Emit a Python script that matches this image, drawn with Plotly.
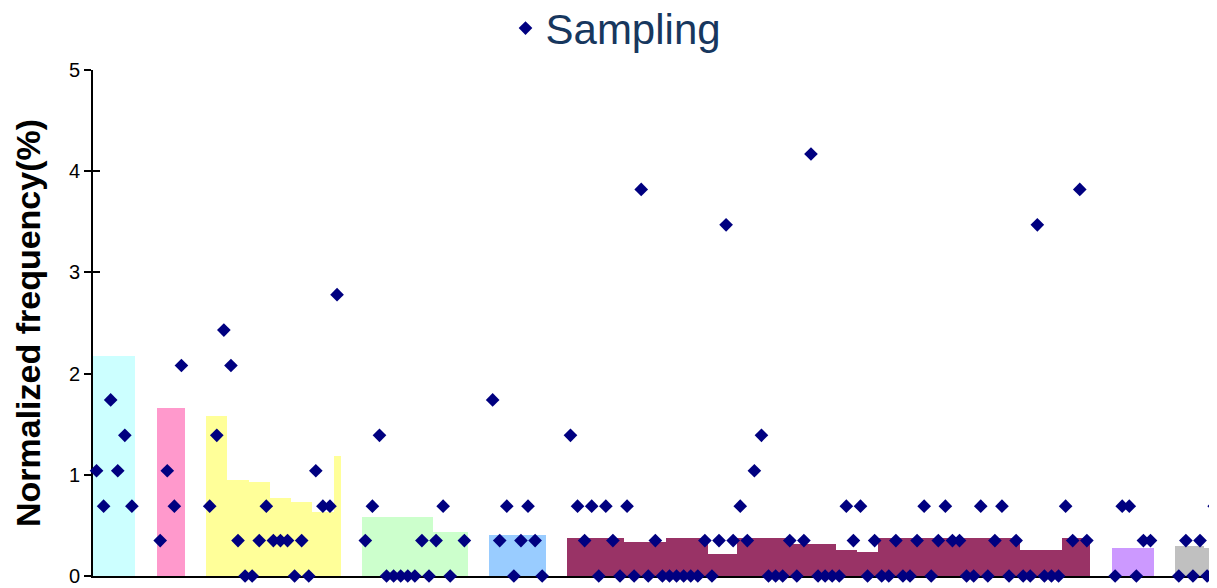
import plotly.graph_objects as go

# ---------------- data ----------------
# category index along the x axis (one slot per sampled position)
categories = list(range(159))

# normalized frequency of each sampled position (None = no sample in that slot)
sampling = [
    1.04, 0.69, 1.74, 1.04, 1.39, 0.69, None, None, None,          # 0-8
    0.35, 1.04, 0.69, 2.08, None, None, None,                      # 9-15
    0.69, 1.39, 2.43, 2.08, 0.35, 0, 0, 0.35, 0.69, 0.35,          # 16-25
    0.35, 0.35, 0, 0.35, 0, 1.04, 0.69, 0.69, 2.78,                # 26-34
    None, None, None,                                              # 35-37
    0.35, 0.69, 1.39, 0, 0, 0, 0, 0, 0.35, 0, 0.35, 0.69, 0,       # 38-50
    None, 0.35, None, None, None,                                  # 51-55
    1.74, 0.35, 0.69, 0, 0.35, 0.69, 0.35, 0,                      # 56-63
    None, None, None,                                              # 64-66
    1.39, 0.69, 0.35, 0.69, 0, 0.69, 0.35, 0, 0.69, 0,             # 67-76
    3.82, 0, 0.35, 0, 0, 0, 0, 0, 0, 0.35,                         # 77-86
    0, 0.35, 3.47, 0.35, 0.69, 0.35, 1.04, 1.39, 0, 0,             # 87-96
    0, 0.35, 0, 0.35, 4.17, 0, 0, 0, 0, 0.69,                      # 97-106
    0.35, 0.69, 0, 0.35, 0, 0, 0.35, 0, 0, 0.35,                   # 107-116
    0.69, 0, 0.35, 0.69, 0.35, 0.35, 0, 0, 0.69, 0,                # 117-126
    0.35, 0.69, 0, 0.35, 0, 0, 3.47, 0, 0, 0,                      # 127-136
    0.69, 0.35, 3.82, 0.35,                                        # 137-140
    None, None, None,                                              # 141-143
    0, 0.69, 0.69, 0, 0.35, 0.35,                                  # 144-149
    None, None, None,                                              # 150-152
    0, 0.35, 0, 0.35, 0, 0.69,                                     # 153-158
]

# background level of each group, one value per category of the group
cyan_start = 0
cyan_level = [2.17, 2.17, 2.17, 2.17, 2.17, 2.17]

pink_start = 9
pink_level = [1.66, 1.66, 1.66, 1.66]

yellow_start = 16
yellow_level = [1.58, 1.58, 1.58, 0.95, 0.95, 0.95, 0.93, 0.93, 0.93,
                0.77, 0.77, 0.77, 0.73, 0.73, 0.73, 0.63, 0.63, 0.63, 1.19]

green_start = 38
green_level = [0.58, 0.58, 0.58, 0.58, 0.58, 0.58, 0.58, 0.58, 0.58, 0.58,
               0.43, 0.43, 0.43, 0.43, 0.43]

blue_start = 56
blue_level = [0.41, 0.41, 0.41, 0.41, 0.41, 0.41, 0.41, 0.41]

maroon_start = 67
maroon_level = [
    0.375, 0.375, 0.375, 0.375, 0.375, 0.375, 0.375, 0.375,   # 67-74
    0.336, 0.336, 0.336, 0.336, 0.336, 0.336,                 # 75-80
    0.375, 0.375, 0.375, 0.375, 0.375, 0.375,                 # 81-86
    0.217, 0.217, 0.217, 0.217,                               # 87-90
    0.375, 0.375, 0.375, 0.375, 0.375, 0.375, 0.375, 0.375,   # 91-98
    0.316, 0.316, 0.316, 0.316, 0.316, 0.316,                 # 99-104
    0.257, 0.257, 0.257,                                      # 105-107
    0.237, 0.237, 0.237,                                      # 108-110
    0.375, 0.375, 0.375, 0.375, 0.375, 0.375, 0.375, 0.375, 0.375, 0.375,
    0.375, 0.375, 0.375, 0.375, 0.375, 0.375, 0.375, 0.375, 0.375, 0.375,  # 111-130
    0.257, 0.257, 0.257, 0.257, 0.257, 0.257,                 # 131-136
    0.375, 0.375, 0.375, 0.375,                               # 137-140
]

lavender_start = 144
lavender_level = [0.277, 0.277, 0.277, 0.277, 0.277, 0.277]

gray_start = 153
gray_level = [0.297, 0.297, 0.297, 0.297, 0.277, 0.277]

y_ticks = [0, 1, 2, 3, 4, 5]

# ---------------- styles ----------------
groups = [
    (cyan_start, cyan_level, "#CCFFFF"),
    (pink_start, pink_level, "#FF99CC"),
    (yellow_start, yellow_level, "#FFFF99"),
    (green_start, green_level, "#CCFFCC"),
    (blue_start, blue_level, "#99CCFF"),
    (maroon_start, maroon_level, "#993366"),
    (lavender_start, lavender_level, "#CC99FF"),
    (gray_start, gray_level, "#C0C0C0"),
]

FONT = "Liberation Sans, Arial, sans-serif"

fig = go.Figure()

for start, level, color in groups:
    xs = [categories[start + i] for i in range(len(level))]
    fig.add_trace(go.Bar(
        x=xs, y=level, width=1.0,
        marker=dict(color=color, line=dict(width=0)),
        showlegend=False, hoverinfo="skip",
        yaxis="y",
    ))

fig.add_trace(go.Scatter(
    x=categories, y=sampling, mode="markers", name="Sampling",
    marker=dict(symbol="diamond", size=10.5, color="#000080",
                line=dict(width=0)),
    cliponaxis=False,
    yaxis="y2",
))

yaxis_common = dict(
    range=[0, 5], tickvals=y_ticks, showgrid=False, zeroline=False,
    showline=True, linecolor="black", linewidth=2,
    tickwidth=2, tickcolor="black", ticklen=7,
    layer="below traces",
)

fig.update_layout(
    width=1209, height=580,
    margin=dict(l=85, r=0, t=62, b=12, autoexpand=False),
    paper_bgcolor="white", plot_bgcolor="white",
    barmode="overlay", bargap=0,
    font=dict(family=FONT, color="black"),
    xaxis=dict(
        range=[-0.5, 158.4], showgrid=False, zeroline=False,
        showline=True, linecolor="black", linewidth=2,
        ticks="", showticklabels=False, layer="below traces",
    ),
    yaxis=dict(
        **yaxis_common, ticks="outside",
        tickfont=dict(family=FONT, size=20, color="black"),
        title=dict(text="Normalized frequency(%)",
                   font=dict(family=FONT, size=34, color="black", weight="bold"),
                   standoff=18),
    ),
    yaxis2=dict(
        **yaxis_common, ticks="inside", overlaying="y", side="left",
        showticklabels=False,
    ),
    legend=dict(
        orientation="h", xref="paper", yref="paper",
        x=0.367, y=1.0824, xanchor="left", yanchor="middle",
        font=dict(family=FONT, size=42, color="#17375E"),
        bgcolor="rgba(0,0,0,0)", itemwidth=30,
    ),
    showlegend=True,
)

fig.write_html("out.html")
